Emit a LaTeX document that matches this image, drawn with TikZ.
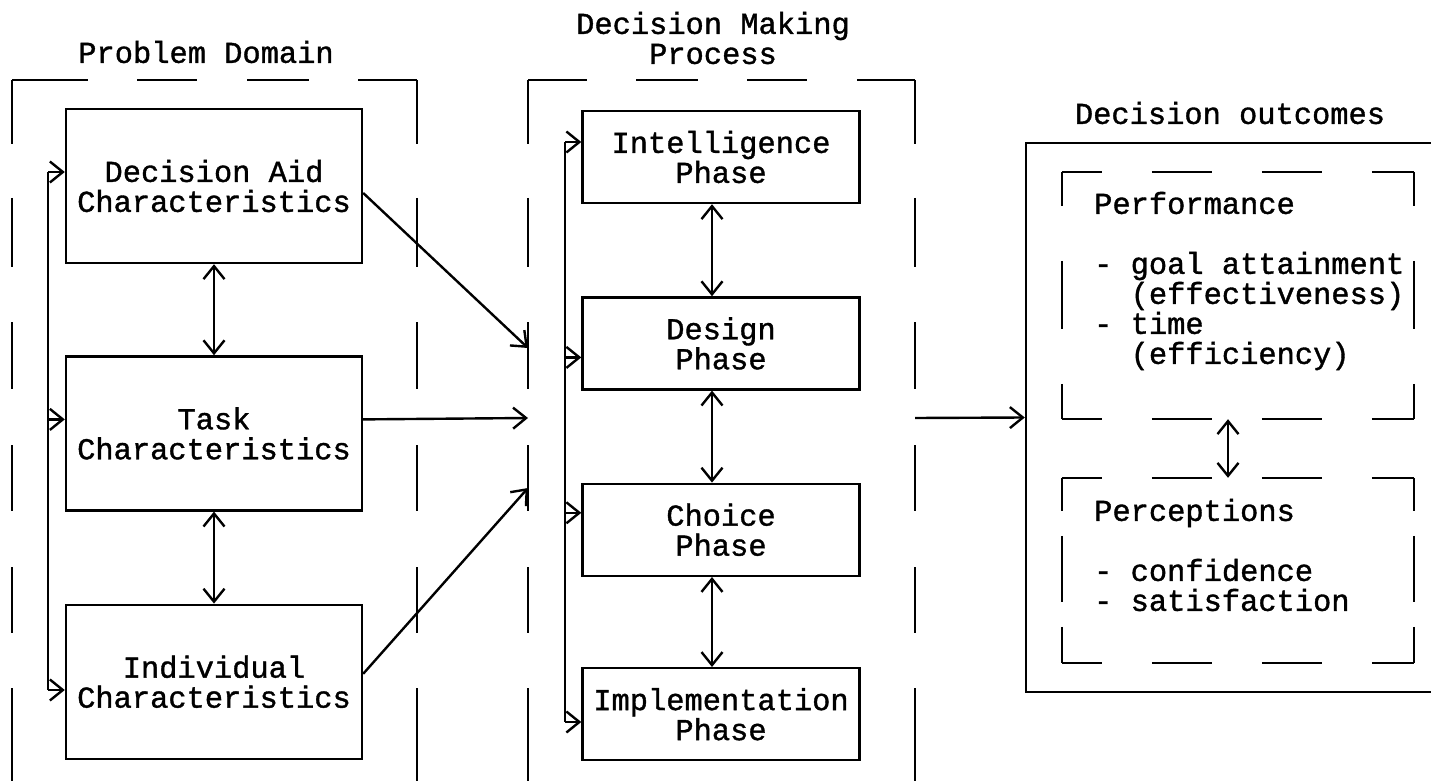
\documentclass[tikz,border=0pt]{standalone}
\usepackage{fontspec}
\setmainfont{Liberation Mono}[FakeBold=1.2]
\usetikzlibrary{arrows.meta, positioning}

\tikzset{
    aidbox/.style={draw, align=center, inner sep=0pt, minimum width=148pt, minimum height=77pt},
    phasebox/.style={draw, align=center, inner sep=0pt, minimum width=138.5pt, minimum height=46pt},
    domtop/.style={dash pattern=on 38pt off 24.5pt on 30pt off 25pt on 31pt off 24.5pt on 40pt off 1pt},
    proctop/.style={dash pattern=on 29.5pt off 24.5pt on 31pt off 24.5pt on 30pt off 25pt on 40pt off 1pt},
    grpside/.style={dash pattern=on 32pt off 27pt on 34.5pt off 27.5pt on 33.5pt off 28pt on 33pt off 28pt on 33pt off 27.5pt on 60pt off 1pt},
    outtop/.style={dash pattern=on 30pt off 25pt, dash phase=10pt},
    perfside/.style={dash pattern=on 34pt off 27.5pt, dash phase=17pt},
    percside/.style={dash pattern=on 33pt off 12.5pt, dash phase=16.5pt}
}

\begin{document}
\begin{tikzpicture}[x=0.5pt, y=-0.5pt, line width=1.2pt,
    >={Straight Barb[length=6.5pt, width=10.5pt]},
    font=\fontsize{15.2pt}{15pt}\selectfont]
    \useasboundingbox (0,0) rectangle (1431,781);

    % Titles
    \node (tdom) at (206,52) {Problem Domain};
    \node[align=center] (tproc) at (713,38) {Decision Making\\Process};
    \node (tout) at (1230,113) {Decision outcomes};

    % Problem domain frame
    \draw[domtop] (12,80) -- (417,80);
    \draw[grpside] (12,80) -- (12,781);
    \draw[grpside] (417,80) -- (417,781);

    % Decision making process frame
    \draw[proctop] (528,80) -- (915,80);
    \draw[grpside] (528,80) -- (528,781);
    \draw[grpside] (915,80) -- (915,781);

    % Problem domain boxes
    \node[aidbox] (aid) at (214,186) {Decision Aid\\Characteristics};
    \node[aidbox, below=45.5pt of aid] (task) {Task\\Characteristics};
    \node[aidbox, below=46pt of task] (indiv) {Individual\\Characteristics};

    \draw[<->] (aid) -- (task);
    \draw[<->] (task) -- (indiv);

    % feedback bus (left)
    \coordinate (lbus top) at (48,172);
    \coordinate (lbus bot) at (48,690);
    \draw (lbus top) -- (lbus bot);
    \draw[->] (lbus top) -- (lbus top -| aid.west);
    \draw[->] ([yshift=7pt]task.west -| lbus top) -- ([yshift=7pt]task.west);
    \draw[->] (lbus bot) -- (lbus bot -| indiv.west);

    % Phase boxes
    \node[phasebox] (intel) at (721,157) {Intelligence\\Phase};
    \node[phasebox, below=46pt of intel] (design) {Design\\Phase};
    \node[phasebox, below=46pt of design] (choice) {Choice\\Phase};
    \node[phasebox, below=45pt of choice] (impl) {Implementation\\Phase};

    \draw[<->] ([xshift=-4.5pt]intel.south) -- ([xshift=-4.5pt]design.north);
    \draw[<->] ([xshift=-4.5pt]design.south) -- ([xshift=-4.5pt]choice.north);
    \draw[<->] ([xshift=-4.5pt]choice.south) -- ([xshift=-4.5pt]impl.north);

    % feedback bus (middle)
    \coordinate (mbus top) at (565,142);
    \coordinate (mbus bot) at (565,722);
    \draw (mbus top) -- (mbus bot);
    \draw[->] (mbus top) -- (mbus top -| intel.west);
    \draw[->] ([yshift=-7pt]design.west -| mbus top) -- ([yshift=-7pt]design.west);
    \draw[->] ([yshift=8.5pt]choice.west -| mbus top) -- ([yshift=8.5pt]choice.west);
    \draw[->] (mbus bot) -- (mbus bot -| impl.west);

    % Inputs to the process
    \coordinate (pin a) at (528,348);
    \coordinate (pin b) at (528,418);
    \coordinate (pin c) at (528,488);
    \draw[->] ([yshift=-3.5pt]aid.east) -- (pin a);
    \draw[->] ([yshift=7pt]task.east) -- (pin b);
    \draw[->] ([yshift=4pt]indiv.east) -- (pin c);

    % Outcomes
    \node[draw, inner sep=0pt, minimum width=205pt, minimum height=274.5pt] (outc) at (1231,417.5) {};
    \coordinate (pout) at (915,418);
    \draw[->] (pout) -- (outc.west);

    \node[inner sep=0pt, minimum width=175pt, minimum height=122.5pt] (perf) at (1238,295.5) {};
    \node[inner sep=0pt, minimum width=175pt, minimum height=91.5pt] (perc) at (1238,570.5) {};

    \draw[outtop] (perf.north west) -- (perf.north east);
    \draw[outtop] (perf.south west) -- (perf.south east);
    \draw[perfside] (perf.north west) -- (perf.south west);
    \draw[perfside] (perf.north east) -- (perf.south east);

    \draw[outtop] (perc.north west) -- (perc.north east);
    \draw[outtop] (perc.south west) -- (perc.south east);
    \draw[percside] (perc.north west) -- (perc.south west);
    \draw[percside] (perc.north east) -- (perc.south east);

    \draw[<->] ([xshift=-5pt]perf.south) -- ([xshift=-5pt]perc.north);

    \node[align=left, anchor=west, inner sep=0pt] (perftxt) at (1093,281)
        {Performance\\[15pt]- goal attainment\\\phantom{-x}(effectiveness)\\- time\\\phantom{-x}(efficiency)};
    \node[align=left, anchor=west, inner sep=0pt] (perctxt) at (1093,555)
        {Perceptions\\[15pt]- confidence\\- satisfaction};
\end{tikzpicture}
\end{document}
